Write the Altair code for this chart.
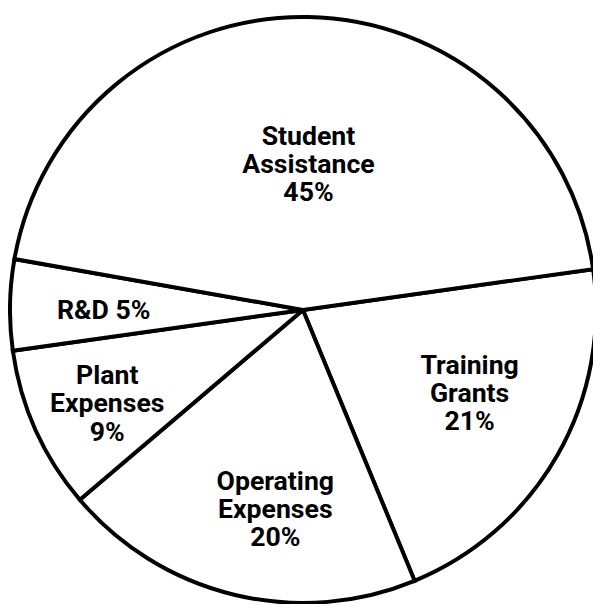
import math
import altair as alt
import pandas as pd

# Slices in clockwise order starting at the right-hand boundary
categories = ["Training Grants", "Operating Expenses", "Plant Expenses", "R&D", "Student Assistance"]
shares = [21, 20, 9, 5, 45]
labels = ["Training\nGrants\n21%", "Operating\nExpenses\n20%", "Plant\nExpenses\n9%",
          "R&D 5%", "Student\nAssistance\n45%"]
slice_order = [1, 2, 3, 4, 5]

df = pd.DataFrame({"category": categories, "share": shares,
                   "label": labels, "ord": slice_order})

START = math.radians(82)  # first boundary, measured clockwise from 12 o'clock
CX, CY = 299, 302         # pie centre within the plot area
R = 297

FONT = "Roboto"

arcs = alt.Chart(df).mark_arc(
    fill="white", stroke="black", strokeWidth=4, radius=R
).encode(
    theta=alt.Theta("share:Q", stack=True,
                    scale=alt.Scale(domain=[0, 100], range=[START, START + 2 * math.pi])),
    order=alt.Order("ord:Q"),
    x=alt.value(CX), y=alt.value(CY),
)

base = alt.Chart(df).transform_window(
    cum="sum(share)", sort=[alt.SortField("ord")], frame=[None, 0]
).transform_joinaggregate(
    total="sum(share)"
).transform_calculate(
    mid=f"{START} + 2*PI*(datum.cum - datum.share/2)/datum.total"
)

# label placement (radius, dx, dy) per slice
placement = {
    "Student Assistance": (148, 3, -27),
    "R&D": (204, 2, 5),
    "Plant Expenses": (223, 5, -24),
    "Operating Expenses": (200, 19, -20),
    "Training Grants": (182, 11, -34),
}

layers = [arcs]
for cat, (r, dx, dy) in placement.items():
    layers.append(
        base.transform_filter(alt.datum.category == cat).mark_text(
            radius=r, dx=dx, dy=dy, font=FONT, fontSize=27, fontWeight="bold",
            lineBreak="\n", lineHeight=28.5, align="center", baseline="middle",
            color="black"
        ).encode(
            theta=alt.Theta("mid:Q", scale=None, stack=False),
            text=alt.Text("label:N"),
            x=alt.value(CX), y=alt.value(CY),
        )
    )

chart = alt.layer(*layers).properties(
    width=593, height=596, padding=0,
    autosize=alt.AutoSizeParams(type="none"),
    background="white",
).configure_view(stroke=None)

chart.save("out.html", embed_options={"renderer": "svg", "actions": False})
